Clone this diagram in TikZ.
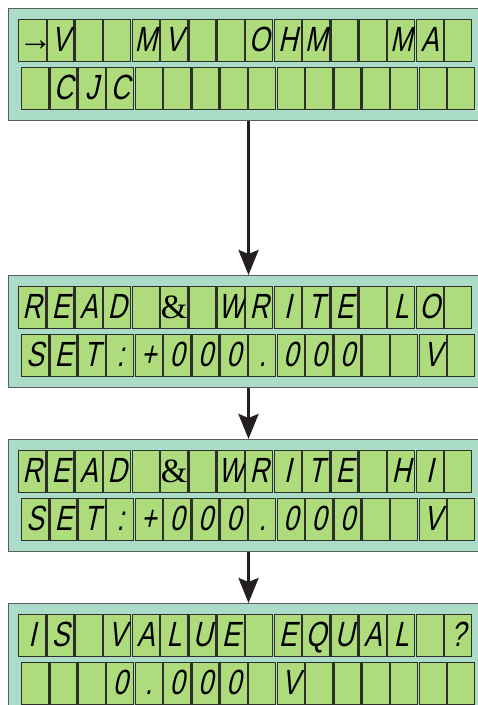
\documentclass[tikz,border=0pt]{standalone}
\usepackage{fontspec}
\usetikzlibrary{arrows.meta,positioning,calc}
\newfontfamily\lcdfont{Liberation Sans}[FakeStretch=0.76,FakeSlant=0.22]
\newfontfamily\ampfont{Liberation Serif}
\definecolor{PanelTeal}{HTML}{ABDCC8}
\definecolor{PanelEdge}{HTML}{5A5E5C}
\definecolor{CellGreen}{HTML}{AEDB7C}
\definecolor{CellEdge}{HTML}{2E2E2A}
\definecolor{ArrowBlack}{HTML}{231F20}
\newcommand{\amp}{{\ampfont\fontsize{34}{34}\selectfont\&}}
\newcommand{\pointer}{\raisebox{1pt}{\ampfont\fontsize{34}{34}\selectfont →}}
\newcommand{\lcdrow}[5]{%
  \foreach \ch [count=\i] in {#5} {
    \node[cell] (#1#2\i) at ($(#1.north west)+({#3+28.4*(\i-1)},#4)$) {\ch};
  }}
\tikzset{
  panel/.style={draw=PanelEdge, line width=1pt, fill=PanelTeal, inner sep=0pt,
        minimum width=480pt, minimum height=112pt, anchor=north west},
  cell/.style={draw=CellEdge, line width=1.1pt, fill=CellGreen, inner sep=0pt,
        minimum width=27pt, minimum height=41.5pt, anchor=north west,
        text height=25pt, text depth=3pt, font=\lcdfont\fontsize{35}{35}\selectfont},
  flow/.style={-{Stealth[length=25pt,width=20pt,inset=4pt]}, line width=3pt, draw=ArrowBlack}
}

\begin{document}
\begin{tikzpicture}[x=1pt, y=-1pt]
    \clip (0,0) rectangle (478,705);
    \fill[white] (0,0) rectangle (478,705);
    \node[panel] (p1) at (8,8) {};
    \node[panel, below=154pt of p1] (p2) {};
    \node[panel, below=51pt of p2] (p3) {};
    \node[panel, below=51pt of p3] (p4) {};
    % display texts
    \lcdrow{p1}{a}{10}{11}{\pointer,V,{},{},M,V,{},{},O,H,M,{},{},M,A,{}}
    \lcdrow{p1}{b}{13}{59}{{},C,J,C,{},{},{},{},{},{},{},{},{},{},{},{}}
    \lcdrow{p2}{a}{10}{11}{R,E,A,D,{},\amp,{},W,R,I,T,E,{},L,O,{}}
    \lcdrow{p2}{b}{13}{59}{S,E,T,:,+,0,0,0,{.},0,0,0,{},{},V,{}}
    \lcdrow{p3}{a}{10}{11}{R,E,A,D,{},\amp,{},W,R,I,T,E,{},H,I,{}}
    \lcdrow{p3}{b}{13}{59}{S,E,T,:,+,0,0,0,{.},0,0,0,{},{},V,{}}
    \lcdrow{p4}{a}{10}{11}{I,S,{},V,A,L,U,E,{},E,Q,U,A,L,{},?}
    \lcdrow{p4}{b}{13}{59}{{},{},{},0,{.},0,0,0,{},V,{},{},{},{},{},{}}
    \draw[flow] (p1) -- (p2);
    \draw[flow] (p2) -- (p3);
    \draw[flow] (p3) -- (p4);
\end{tikzpicture}
\end{document}
